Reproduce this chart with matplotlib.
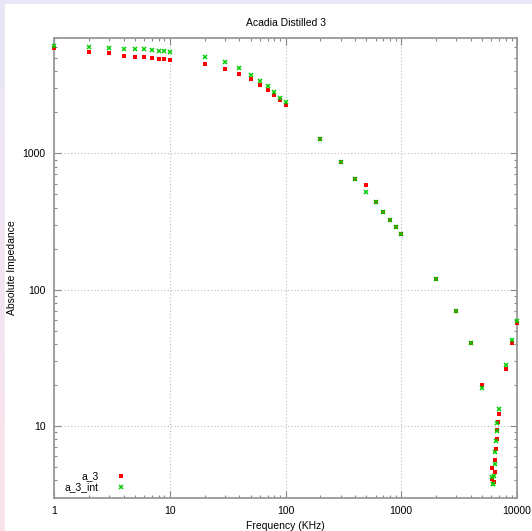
import numpy as np
import matplotlib
matplotlib.use("Agg")
import matplotlib.pyplot as plt
from matplotlib.colors import LinearSegmentedColormap
from matplotlib.patches import Rectangle

# 周波数 (KHz)
freq = [1, 2, 3, 4, 5, 6, 7, 8, 9, 10,
        20, 30, 40, 50, 60, 70, 80, 90, 100,
        200, 300, 400, 500, 600, 700, 800, 900, 1000,
        2000, 3000, 4000, 5000, 8000, 9000, 10000]

# a_3 (測定値)
a_3 = [5890, 5510, 5410, 5170, 5110, 5060, 4980, 4920, 4890, 4860,
       4540, 4180, 3840, 3500, 3180, 2900, 2660, 2440, 2260,
       1266, 864, 649, 583, 436, 372, 323, 287, 258,
       120, 70.2, 40.6, 19.9, 26.2, 40.5, 56.9]

# a_3_int
a_3_int = [6120, 6030, 5950, 5850, 5820, 5820, 5690, 5650, 5620, 5530,
           5100, 4670, 4200, 3770, 3410, 3100, 2800, 2560, 2370,
           1266, 864, 649, 521, 436, 372, 323, 287, 258,
           120, 70.2, 40.6, 19.2, 28.0, 43.1, 59.4]

# 共振付近 (6-7 MHz)
res_freq_a = [6990, 6895, 6757, 6677, 6585, 6494, 6043, 6455, 6116, 6289]
res_a = [12.2, 10.75, 9.40, 8.03, 6.82, 5.61, 4.95, 4.58, 4.09, 3.87]
res_freq_i = [6990, 6757, 6717, 6624, 6494, 6416, 6116, 6327, 6239, 6170]
res_i = [13.3, 10.6, 9.15, 7.73, 6.48, 5.30, 4.21, 4.28, 3.76, 3.76]

plt.rcParams['font.family'] = ['Liberation Sans', 'DejaVu Sans']

fig = plt.figure(figsize=(5.32, 5.31), dpi=100)

# 背景のグラデーション
bg = fig.add_axes([0, 0, 1, 1], zorder=-10)
cmap = LinearSegmentedColormap.from_list("bg", ["#fbe3ea", "#e8e6f8"])
bg.imshow(np.linspace(0, 1, 256).reshape(-1, 1), aspect='auto', cmap=cmap,
          origin='lower', extent=[0, 1, 0, 1])
bg.add_patch(Rectangle((5 / 532, 0), 1, 1 - 4 / 531, color='white'))
bg.set_xlim(0, 1)
bg.set_ylim(0, 1)
bg.axis('off')

ax = fig.add_axes([54 / 532, (531 - 497.5) / 531, 463 / 532, 459.5 / 531])
ax.set_facecolor('none')

red = '#ff0000'
green = '#00cc00'

ax.plot(freq + res_freq_a, a_3 + res_a, 's', color=red, markersize=2.3,
        markeredgewidth=0, clip_on=False, zorder=3)
ax.plot(freq + res_freq_i, a_3_int + res_i, 'x', color=green, markersize=3.0,
        markeredgewidth=1.1, clip_on=False, zorder=4)

ax.set_xscale('log')
ax.set_yscale('log')
ax.set_xlim(1, 10000)
ax.set_ylim(3, 7000)

ax.set_xticks([1, 10, 100, 1000, 10000])
ax.set_xticklabels(['1', '10', '100', '1000', '10000'])
ax.set_yticks([10, 100, 1000])
ax.set_yticklabels(['10', '100', '1000'])

ax.grid(True, which='major', linestyle=(0, (1, 2)), color='#bbbbbb', linewidth=0.8)
ax.tick_params(which='both', direction='in', top=True, right=True,
               colors='#888888', labelcolor='black', labelsize=7.5)
ax.tick_params(which='major', length=5, width=0.8)
ax.tick_params(which='minor', length=2.5, width=0.8)
ax.tick_params(axis='x', pad=6)
ax.tick_params(axis='y', pad=6)
for s in ax.spines.values():
    s.set_color('#999999')
    s.set_linewidth(1.3)

ax.set_title('Acadia Distilled 3', fontsize=7.5, pad=9)
ax.set_xlabel('Frequency (KHz)', fontsize=7.5, labelpad=4)
ax.set_ylabel('Absolute Impedance', fontsize=7.5, labelpad=4)

# 凡例
ax.text(0.097, 0.047, 'a_3', transform=ax.transAxes, ha='right', va='center', fontsize=7.5)
ax.text(0.097, 0.023, 'a_3_int', transform=ax.transAxes, ha='right', va='center', fontsize=7.5)
ax.plot([0.144], [0.047], 's', color=red, markersize=2.3, markeredgewidth=0,
        transform=ax.transAxes)
ax.plot([0.144], [0.023], 'x', color=green, markersize=3.0, markeredgewidth=1.1,
        transform=ax.transAxes)

fig.savefig('out.png', dpi=100)
